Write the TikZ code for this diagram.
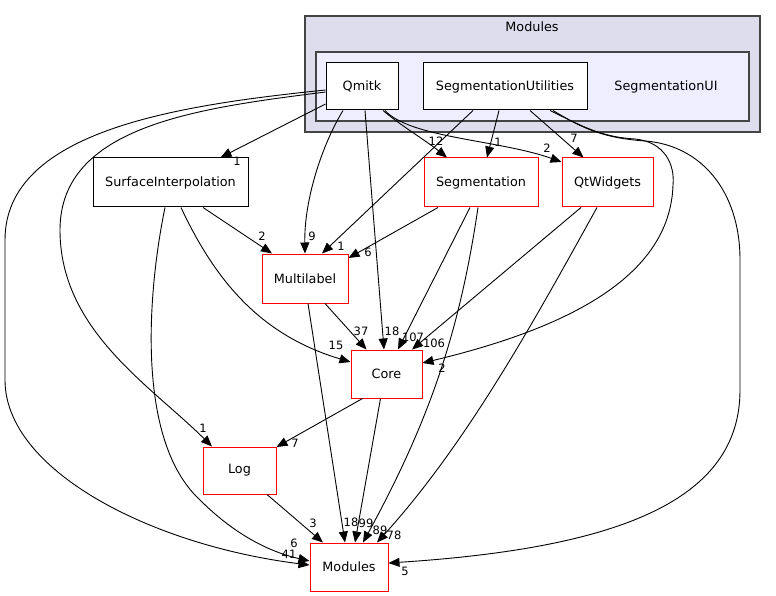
\documentclass[tikz,border=0pt]{standalone}
\usepackage{fontspec}
\setmainfont{DejaVu Sans}
\usepackage{tikz}
\usetikzlibrary{arrows.meta}
\definecolor{outerfill}{HTML}{DDDDEE}
\definecolor{innerfill}{HTML}{EEEEFF}
\definecolor{clusterline}{HTML}{444444}
\tikzset{dirnode/.style={draw=black,fill=white,line width=1pt,inner sep=0pt,minimum height=47pt,font=\fontsize{12.8}{14}\selectfont},
	extnode/.style={dirnode,draw=red},
	cluster/.style={draw=clusterline,line width=1.2pt,inner sep=0pt},
	dep/.style={-{Triangle[length=11pt,width=9pt]},line width=0.9pt},
	elabel/.style={inner sep=0pt,font=\fontsize{11.5}{13}\selectfont}}

\begin{document}
\begin{tikzpicture}[x=1pt,y=-1pt]
		\useasboundingbox (0,0) rectangle (776,596);
		% clusters
		\node[cluster,fill=outerfill,minimum width=455pt,minimum height=116pt] (modcl) at (532.5,74){};
		\node[font=\fontsize{12.8}{14}\selectfont] (modtitle) at (532,27){Modules};
		\node[cluster,fill=innerfill,minimum width=433pt,minimum height=69pt] (segcl) at (532.5,86.5){};
		\node[font=\fontsize{12.8}{14}\selectfont] (segtitle) at (666,86.5){SegmentationUI};
		% directories
		\node[dirnode,minimum width=72pt] (qmitk) at (362,86.5){Qmitk};
		\node[dirnode,minimum width=164pt] (segutil) at (505,86.5){SegmentationUtilities};
		\node[dirnode,minimum width=155pt,minimum height=49pt] (surf) at (170.5,182.5){SurfaceInterpolation};
		\node[extnode,minimum width=114pt,minimum height=49pt] (seg) at (481,182.5){Segmentation};
		\node[extnode,minimum width=91pt,minimum height=49pt] (qtw) at (607.5,182.5){QtWidgets};
		\node[extnode,minimum width=86pt,minimum height=49pt] (multi) at (305,278.5){Multilabel};
		\node[extnode,minimum width=71pt,minimum height=48pt] (core) at (386.5,374){Core};
		\node[extnode,minimum width=73pt] (log) at (239.5,470.5){Log};
		\node[extnode,minimum width=78pt,minimum height=48pt] (mods) at (349,567){Modules};
		% Qmitk
		\draw[dep] ([yshift=-17.5pt]qmitk.west) -- ([xshift=-28pt]surf.north east) node[elabel] (l1) at (237,161){1};
		\draw[dep] ([xshift=-19pt]qmitk.south) .. controls (322,145) and (304,200) .. (multi.north) node[elabel] (l2) at (312,236){9};
		\draw[dep] ([xshift=3pt]qmitk.south) -- ([xshift=-2.5pt]core.north) node[elabel] (l3) at (392,331){18};
		\draw[dep] ([xshift=21pt]qmitk.south) .. controls (400,125) and (425,140) .. ([xshift=-34pt]seg.north) node[elabel] (l4) at (436,141){12};
		\draw[dep] ([xshift=23pt]qmitk.south) .. controls (410,138) and (500,140) .. ([yshift=20.5pt]qtw.west) node[elabel] (l5) at (547,148){2};
		\draw[dep] ([yshift=-5.5pt]qmitk.west) .. controls (200,108) and (60,125) .. (60,230) .. controls (60,330) and (150,385) .. ([xshift=-27.5pt]log.north) node[elabel] (l6) at (203,428){1};
		\draw[dep] ([yshift=-3.5pt]qmitk.west) .. controls (180,105) and (5,130) .. (5,240) -- (5,380) .. controls (5,470) and (150,545) .. ([yshift=2pt]mods.west) node[elabel] (l7) at (289,554){41};
		% SegmentationUtilities
		\draw[dep] ([xshift=-32pt]segutil.south) -- ([xshift=17pt]multi.north) node[elabel] (l8) at (341,246){1};
		\draw[dep] ([xshift=-6pt]segutil.south) -- ([xshift=6pt]seg.north) node[elabel] (l9) at (498,142){1};
		\draw[dep] ([xshift=25pt]segutil.south) -- ([xshift=-24pt]qtw.north) node[elabel] (l10) at (574,138){7};
		\draw[dep] ([xshift=45pt]segutil.south) .. controls (580,125) and (600,137) .. (635,139) .. controls (665,142) and (675,165) .. (673,185) .. controls (670,280) and (560,330) .. ([yshift=11pt]core.east) node[elabel] (l11) at (442,368){2};
		\draw[dep] ([xshift=48pt]segutil.south) .. controls (585,130) and (605,138) .. (645,141) .. controls (700,145) and (740,190) .. (740,260) -- (740,390) .. controls (740,500) and (620,548) .. ([yshift=4pt]mods.east) node[elabel] (l12) at (405,571){5};
		% SurfaceInterpolation
		\draw[dep] ([xshift=32.5pt]surf.south) -- ([xshift=-33pt]multi.north) node[elabel] (l13) at (262,236){2};
		\draw[dep] ([xshift=10.5pt]surf.south) .. controls (215,280) and (260,335) .. ([yshift=12pt]core.west) node[elabel] (l14) at (336,345){15};
		\draw[dep] ([xshift=-5.5pt]surf.south) .. controls (148,290) and (135,440) .. (200,500) .. controls (235,535) and (270,552) .. ([yshift=6pt]mods.west) node[elabel] (l15) at (294,543){6};
		% Segmentation
		\draw[dep] ([xshift=-43pt]seg.south) -- ([yshift=20.5pt]multi.east) node[elabel] (l16) at (368,252){6};
		\draw[dep] ([xshift=-11pt]seg.south) -- ([xshift=11.5pt]core.north) node[elabel] (l17) at (413,337){107};
		\draw[dep] ([xshift=-3pt]seg.south) .. controls (460,330) and (430,420) .. ([xshift=14pt]mods.north) node[elabel] (l18) at (380,530){89};
		% QtWidgets
		\draw[dep] ([xshift=-26.5pt]qtw.south) -- ([xshift=25.5pt]core.north) node[elabel] (l19) at (434,343){106};
		\draw[dep] ([xshift=-10.5pt]qtw.south) .. controls (540,310) and (470,440) .. ([xshift=28pt]mods.north) node[elabel] (l20) at (394,535){78};
		% Multilabel, Core, Log
		\draw[dep] ([xshift=20pt]multi.south) -- ([xshift=-20pt]core.north) node[elabel] (l21) at (361,331){37};
		\draw[dep] ([xshift=3pt]multi.south) -- ([xshift=-4pt]mods.north) node[elabel] (l22) at (351,522){18};
		\draw[dep] ([xshift=-24pt]core.south) -- ([yshift=23.5pt]log.east) node[elabel] (l23) at (295,443){7};
		\draw[dep] ([xshift=-6pt]core.south) -- ([xshift=6pt]mods.north) node[elabel] (l24) at (366,523){99};
		\draw[dep] ([xshift=27.5pt]log.south) -- ([xshift=-26pt]mods.north) node[elabel] (l25) at (313,523){3};
		\end{tikzpicture}
\end{document}
